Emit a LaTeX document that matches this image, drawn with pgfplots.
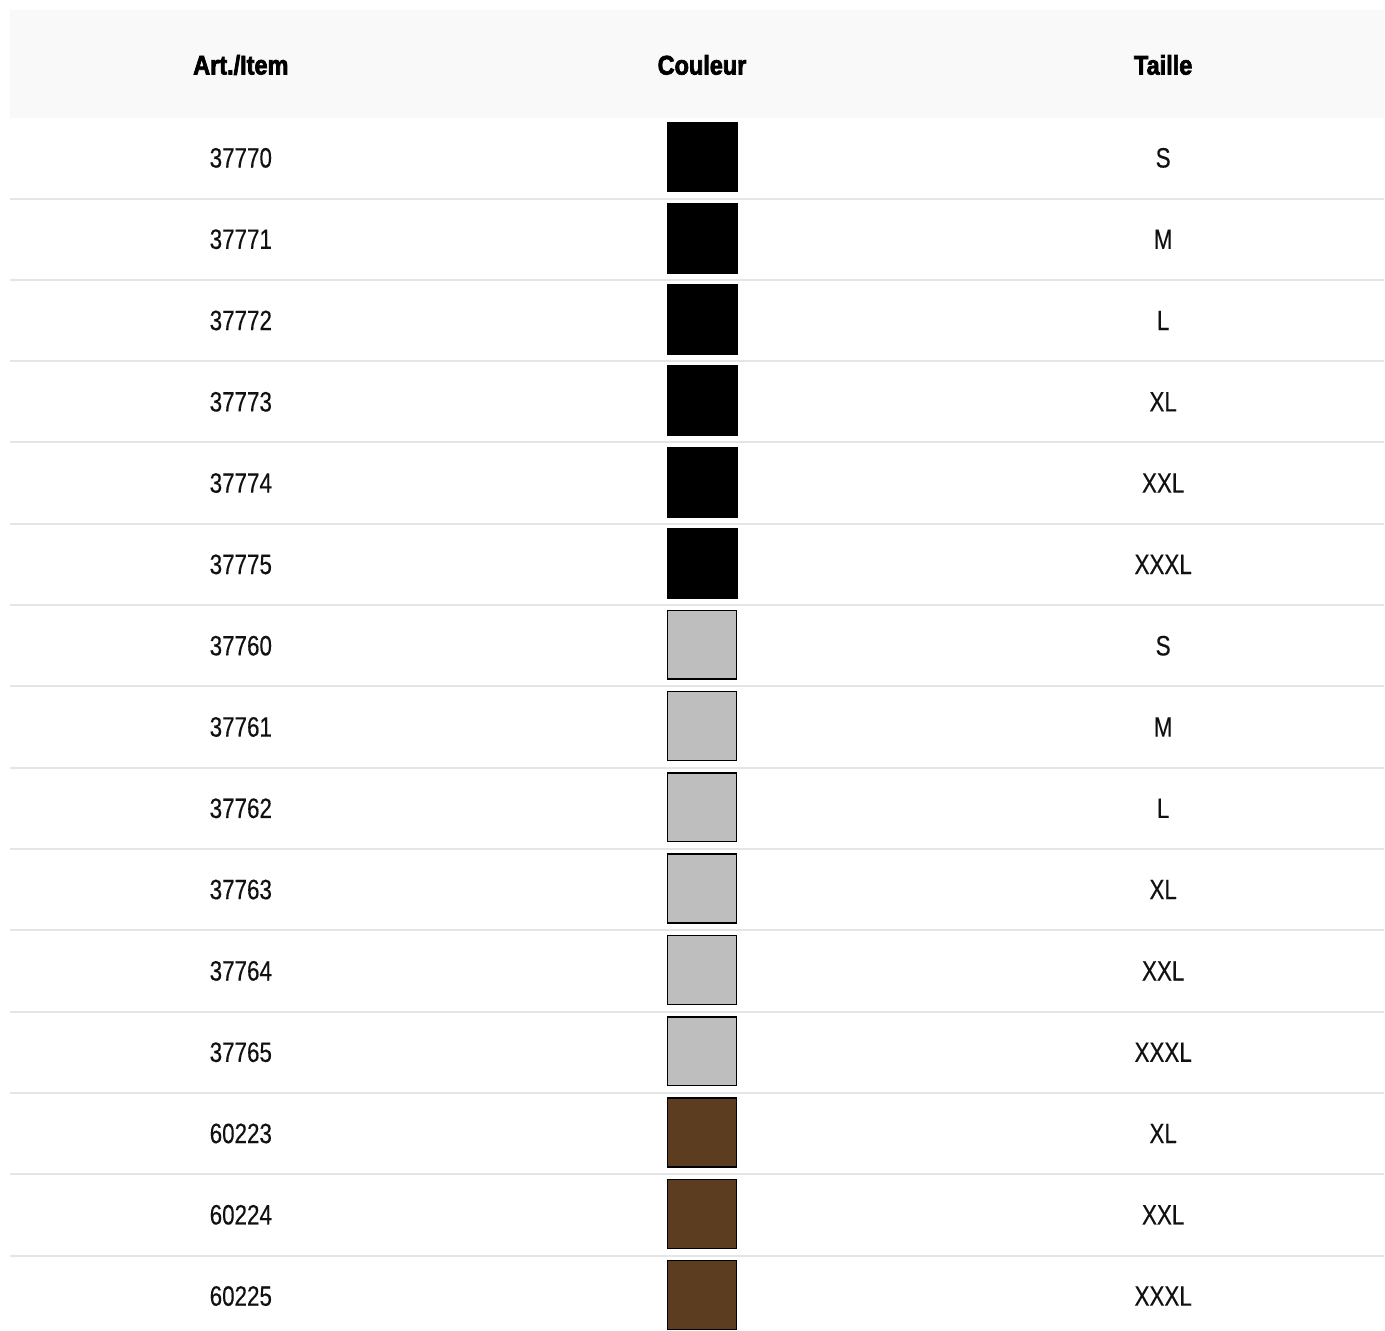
\documentclass[border=0pt]{standalone}
\usepackage{fontspec}
\setmainfont{Liberation Sans}[FakeStretch=0.8, FakeBold=0.35, BoldFeatures={FakeStretch=0.87, FakeBold=2.6}]
\usepackage{pgfplots}
\usepackage{pgfplotstable}
\pgfplotsset{compat=1.18}
\definecolor{headbg}{HTML}{F9F9F9}
\definecolor{sepline}{HTML}{E5E5E5}
\definecolor{swgray}{HTML}{BEBEBE}
\definecolor{swbrown}{HTML}{5C3D1F}
\definecolor{txt}{HTML}{111111}

\pgfplotstableread{
x y label
241 158.0 37770
241 239.4 37771
241 320.7 37772
241 402.1 37773
241 483.4 37774
241 564.8 37775
241 646.2 37760
241 727.5 37761
241 808.9 37762
241 890.2 37763
241 971.6 37764
241 1053.0 37765
241 1134.3 60223
241 1215.7 60224
241 1297.0 60225
}\items

\pgfplotstableread{
x y label
1164 158.0 S
1164 239.4 M
1164 320.7 L
1164 402.1 XL
1164 483.4 XXL
1164 564.8 XXXL
1164 646.2 S
1164 727.5 M
1164 808.9 L
1164 890.2 XL
1164 971.6 XXL
1164 1053.0 XXXL
1164 1134.3 XL
1164 1215.7 XXL
1164 1297.0 XXXL
}\sizes

\pgfplotstableread{
x y label
241 65 {Art./Item}
702.5 65 Couleur
1164 65 Taille
}\heads

\pgfplotstableread{
x y
702.5 157.0
702.5 238.4
702.5 319.7
702.5 401.1
702.5 482.4
702.5 563.8
}\black

\pgfplotstableread{
x y
702.5 645.2
702.5 726.5
702.5 807.9
702.5 889.2
702.5 970.6
702.5 1052.0
}\grey

\pgfplotstableread{
x y
702.5 1133.3
702.5 1214.7
702.5 1296.0
}\brown

\begin{document}
\begin{tikzpicture}
\begin{axis}[
  scale only axis,
  width=692.5pt, height=665.5pt,
  xmin=0, xmax=1385, ymin=0, ymax=1331,
  y dir=reverse,
  hide axis,
  clip=false,
  unbounded coords=jump,
]
% background
\addplot[draw=none, fill=white, forget plot] coordinates {(0,0) (1385,0) (1385,1331) (0,1331) (0,0)};
% header band
\addplot[draw=none, fill=headbg, forget plot] coordinates {(10,10) (1385,10) (1385,118) (10,118) (10,10)};
% separators
\addplot[sepline, line width=1pt, forget plot] coordinates {
(10,198.7) (1385,198.7) (nan,nan)
(10,280.0) (1385,280.0) (nan,nan)
(10,361.4) (1385,361.4) (nan,nan)
(10,442.8) (1385,442.8) (nan,nan)
(10,524.1) (1385,524.1) (nan,nan)
(10,605.5) (1385,605.5) (nan,nan)
(10,686.8) (1385,686.8) (nan,nan)
(10,768.2) (1385,768.2) (nan,nan)
(10,849.6) (1385,849.6) (nan,nan)
(10,930.9) (1385,930.9) (nan,nan)
(10,1012.3) (1385,1012.3) (nan,nan)
(10,1093.6) (1385,1093.6) (nan,nan)
(10,1175.0) (1385,1175.0) (nan,nan)
(10,1256.4) (1385,1256.4)
};
% swatches
\addplot[only marks, mark=square*, mark size=17.5pt, mark options={fill=black, draw=none}] table {\black};
\addplot[only marks, mark=square*, mark size=17.2pt, mark options={fill=swgray, draw=black, line width=0.7pt}] table {\grey};
\addplot[only marks, mark=square*, mark size=17.2pt, mark options={fill=swbrown, draw=black, line width=0.7pt}] table {\brown};
% texts
\addplot[draw=none, mark=none, nodes near coords={\pgfplotspointmeta}, point meta=explicit symbolic,
  every node near coord/.append style={anchor=center, font=\fontsize{14}{16}\selectfont, text=txt, inner sep=0pt}]
  table[meta=label] {\items};
\addplot[draw=none, mark=none, nodes near coords={\pgfplotspointmeta}, point meta=explicit symbolic,
  every node near coord/.append style={anchor=center, font=\fontsize{14}{16}\selectfont, text=txt, inner sep=0pt}]
  table[meta=label] {\sizes};
\addplot[draw=none, mark=none, nodes near coords={\pgfplotspointmeta}, point meta=explicit symbolic,
  every node near coord/.append style={anchor=center, font=\fontsize{13.5}{16}\selectfont\bfseries, text=black, inner sep=0pt}]
  table[meta=label] {\heads};
\end{axis}
\end{tikzpicture}
\end{document}
